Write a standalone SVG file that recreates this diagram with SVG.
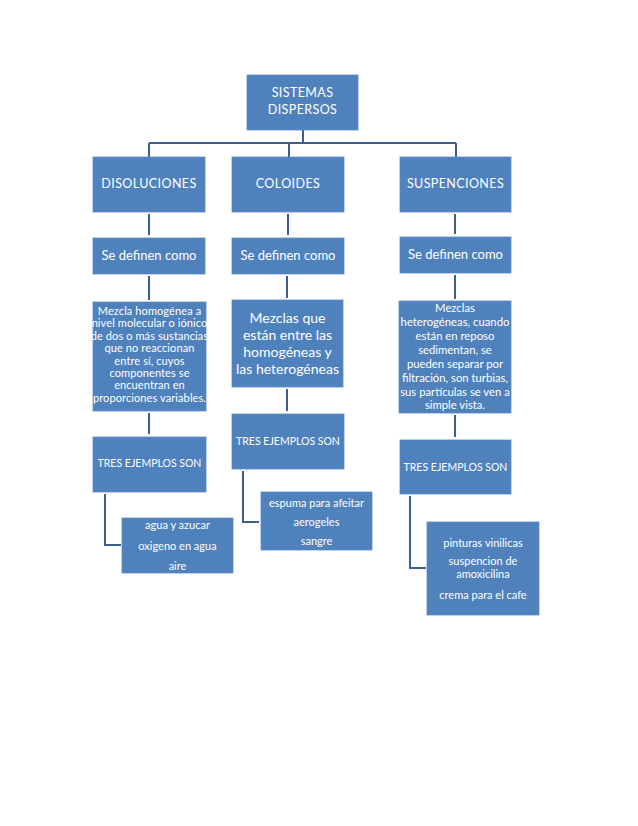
<svg xmlns="http://www.w3.org/2000/svg" width="638" height="826" viewBox="0 0 638 826">
<style>
.box{fill:#4F81BD;stroke:#5A8AC4;stroke-width:0.8}
.con{fill:none;stroke:#3C5F90;stroke-width:2}
text{font-family:Lato,"Liberation Sans",sans-serif;fill:#FFFFFF;text-anchor:middle}
.h{font-size:12.5px;letter-spacing:0.4px}
.d{font-size:13px}
.s{font-size:11px;letter-spacing:0.1px}
.m{font-size:14px}
.t{font-size:11.3px}
.r{font-size:10.5px}
.e{font-size:11px}
</style>
<rect width="638" height="826" fill="#FFFFFF"/>
<g id="connectors">
<path class="con" d="M303 130 V143 M149 143 H456 M149 143 V157 M289 143 V157 M456 143 V157"/>
<path class="con" d="M149 214 V235 M288 214 V235 M455 214 V234"/>
<path class="con" d="M149 276 V300 M287 276 V298 M455 275 V299"/>
<path class="con" d="M149 413 V434 M287 389 V411 M455 415 V437"/>
<path class="con" d="M105 494 V545 H121"/>
<path class="con" d="M243 471 V522 H259"/>
<path class="con" d="M410 496 V568 H426"/>
</g>
<g id="sistemas">
<rect class="box" x="247" y="75" width="111" height="55"/>
<text class="h" x="302.5" y="97">SISTEMAS</text>
<text class="h" x="302.5" y="114">DISPERSOS</text>
</g>
<g id="disoluciones">
<rect class="box" x="93" y="157" width="112" height="55"/>
<text class="h" x="149" y="188">DISOLUCIONES</text>
</g>
<g id="coloides">
<rect class="box" x="232" y="157" width="112" height="55"/>
<text class="h" x="288" y="188">COLOIDES</text>
</g>
<g id="suspenciones">
<rect class="box" x="400" y="157" width="111" height="55"/>
<text class="h" x="455.5" y="188">SUSPENCIONES</text>
</g>
<g id="def-disoluciones">
<rect class="box" x="93" y="238" width="112" height="36"/>
<text class="d" x="149" y="260">Se definen como</text>
</g>
<g id="def-coloides">
<rect class="box" x="232" y="238" width="112" height="36"/>
<text class="d" x="288" y="260">Se definen como</text>
</g>
<g id="def-suspenciones">
<rect class="box" x="400" y="237" width="111" height="36"/>
<text class="d" x="455.5" y="259">Se definen como</text>
</g>
<g id="desc-disoluciones">
<rect class="box" x="93" y="302" width="113" height="109"/>
<text class="s" x="149.5" y="315">Mezcla homogénea a</text>
<text class="s" x="149.5" y="327.4">nivel molecular o iónico</text>
<text class="s" x="149.5" y="339.8">de dos o más sustancias</text>
<text class="s" x="149.5" y="352.2">que no reaccionan</text>
<text class="s" x="149.5" y="364.6">entre sí, cuyos</text>
<text class="s" x="149.5" y="377">componentes se</text>
<text class="s" x="149.5" y="389.4">encuentran en</text>
<text class="s" x="149.5" y="401.8">proporciones variables.</text>
</g>
<g id="desc-coloides">
<rect class="box" x="232" y="300" width="111" height="87"/>
<text class="m" x="287.5" y="323">Mezclas que</text>
<text class="m" x="287.5" y="340">están entre las</text>
<text class="m" x="287.5" y="357">homogéneas y</text>
<text class="m" x="287.5" y="374">las heterogéneas</text>
</g>
<g id="desc-suspenciones">
<rect class="box" x="399" y="301" width="112" height="112"/>
<text class="t" x="455" y="312">Mezclas</text>
<text class="t" x="455" y="326">heterogéneas, cuando</text>
<text class="t" x="455" y="340">están en reposo</text>
<text class="t" x="455" y="354">sedimentan, se</text>
<text class="t" x="455" y="368">pueden separar por</text>
<text class="t" x="455" y="382">filtración, son turbias,</text>
<text class="t" x="455" y="396">sus partículas se ven a</text>
<text class="t" x="455" y="409">simple vista.</text>
</g>
<g id="tres-disoluciones">
<rect class="box" x="93" y="437" width="113" height="55"/>
<text class="r" x="149.5" y="467">TRES EJEMPLOS SON</text>
</g>
<g id="tres-coloides">
<rect class="box" x="232" y="414" width="112" height="55"/>
<text class="r" x="288" y="445">TRES EJEMPLOS SON</text>
</g>
<g id="tres-suspenciones">
<rect class="box" x="400" y="440" width="111" height="54"/>
<text class="r" x="455.5" y="471">TRES EJEMPLOS SON</text>
</g>
<g id="ej-disoluciones">
<rect class="box" x="122" y="518" width="111" height="55"/>
<text class="e" x="177.5" y="529">agua y azucar</text>
<text class="e" x="177.5" y="550">oxigeno en agua</text>
<text class="e" x="177.5" y="570">aire</text>
</g>
<g id="ej-coloides">
<rect class="box" x="261" y="492" width="111" height="58"/>
<text class="e" x="316.5" y="507">espuma para afeitar</text>
<text class="e" x="316.5" y="526">aerogeles</text>
<text class="e" x="316.5" y="545">sangre</text>
</g>
<g id="ej-suspenciones">
<rect class="box" x="427" y="522" width="112" height="93"/>
<text class="e" x="483" y="547">pinturas vinilicas</text>
<text class="e" x="483" y="565">suspencion de</text>
<text class="e" x="483" y="578">amoxicilina</text>
<text class="e" x="483" y="599">crema para el cafe</text>
</g>
</svg>
